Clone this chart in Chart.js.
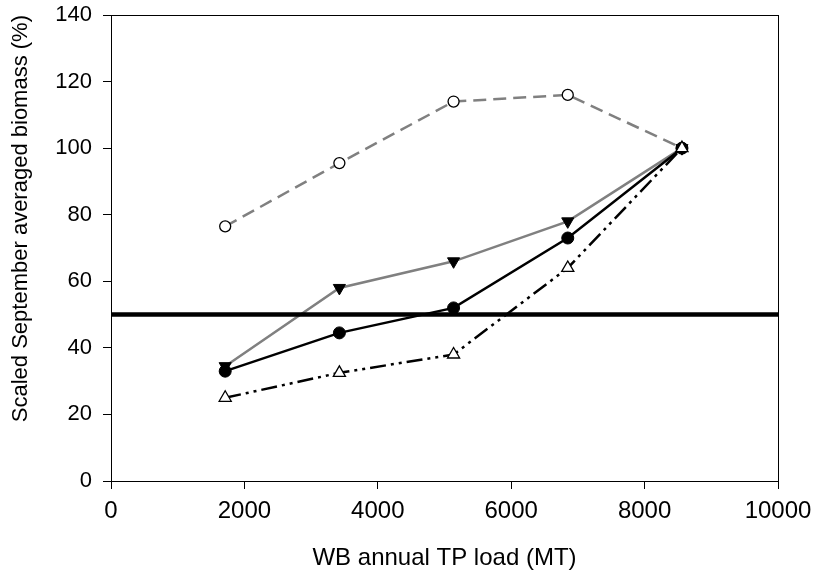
<!DOCTYPE html>
<html>
<head>
<meta charset="utf-8">
<script src="https://cdn.jsdelivr.net/npm/chart.js@4.4.0/dist/chart.umd.min.js"></script>
<style>
  html, body { margin: 0; padding: 0; background: #fff; }
  #wrap { width: 813px; height: 577px; }
</style>
</head>
<body>
<div id="wrap"><canvas id="chart" width="813" height="577"></canvas></div>
<script>
// ====================== Data ======================
const loads = [1712, 3424, 5136, 6848, 8560];
const openCircles = [76.5, 95.5, 114, 116, 100];
const downTriangles = [34.5, 58, 66, 78, 100];
const filledCircles = [33, 44.5, 52, 73, 100];
const openTriangles = [25, 32.5, 38, 64, 100];
const thresholdX = [0, 10000];
const thresholdY = [50, 50];

const toPoints = (xs, ys) => xs.map((x, i) => ({ x: x, y: ys[i] }));

// ====================== Frame plugin ======================
const frame = {
  id: 'frame',
  afterDatasetsDraw(chart) {
    const a = chart.chartArea;
    const ctx = chart.ctx;
    ctx.save();
    ctx.strokeStyle = '#000';
    ctx.lineWidth = 1;
    ctx.strokeRect(Math.round(a.left) + 0.5, Math.round(a.top) + 0.5,
                   Math.round(a.right - a.left), Math.round(a.bottom - a.top));
    ctx.restore();
  }
};

const font = "'Liberation Sans', Arial, sans-serif";

new Chart(document.getElementById('chart').getContext('2d'), {
  type: 'line',
  data: {
    datasets: [
      {
        data: toPoints(thresholdX, thresholdY),
        borderColor: '#000', borderWidth: 4.5, pointRadius: 0, order: 0
      },
      {
        data: toPoints(loads, openCircles),
        borderColor: '#808080', borderWidth: 2.5, borderDash: [13, 7],
        pointStyle: 'circle', pointRadius: 5.5, pointBackgroundColor: '#fff',
        pointBorderColor: '#000', pointBorderWidth: 1.3, order: 4
      },
      {
        data: toPoints(loads, downTriangles),
        borderColor: '#808080', borderWidth: 2.5,
        pointStyle: 'triangle', pointRotation: 180, pointRadius: 7,
        pointBackgroundColor: '#000', pointBorderColor: '#000', pointBorderWidth: 1, order: 3
      },
      {
        data: toPoints(loads, filledCircles),
        borderColor: '#000', borderWidth: 2.5,
        pointStyle: 'circle', pointRadius: 6, pointBackgroundColor: '#000',
        pointBorderColor: '#000', pointBorderWidth: 1, order: 2
      },
      {
        data: toPoints(loads, openTriangles),
        borderColor: '#000', borderWidth: 2.5, borderDash: [16, 5, 3, 5, 3, 5],
        pointStyle: 'triangle', pointRadius: 7, pointBackgroundColor: '#fff',
        pointBorderColor: '#000', pointBorderWidth: 1.3, order: 1
      }
    ]
  },
  options: {
    responsive: false,
    animation: false,
    layout: { padding: { top: 15, right: 35, left: 0, bottom: 0 } },
    plugins: { legend: { display: false }, tooltip: { enabled: false } },
    scales: {
      x: {
        type: 'linear', min: 0, max: 10000,
        afterFit(scale) { scale.height = 96; scale.paddingRight = 0; scale.paddingLeft = 0; },
        ticks: { stepSize: 2000, color: '#000', padding: 8, font: { family: font, size: 24 },
                 callback: v => String(v) },
        grid: { drawOnChartArea: false, drawTicks: true, tickLength: 8, color: '#000' },
        border: { display: true, color: '#000', width: 1 },
        title: { display: true, text: 'WB annual TP load (MT)', color: '#000',
                 font: { family: font, size: 24 }, padding: { top: 4, bottom: 4 } }
      },
      y: {
        type: 'linear', min: 0, max: 140,
        afterFit(scale) { scale.width = 111; scale.paddingTop = 0; scale.paddingBottom = 0; },
        ticks: { stepSize: 20, color: '#000', padding: 11, font: { family: font, size: 22 } },
        grid: { drawOnChartArea: false, drawTicks: true, tickLength: 8, color: '#000' },
        border: { display: true, color: '#000', width: 1 },
        title: { display: true, text: 'Scaled September averaged biomass (%)', color: '#000',
                 align: 'end', font: { family: font, size: 22 }, padding: { top: 8, bottom: 8 } }
      }
    }
  },
  plugins: [frame]
});
</script>
</body>
</html>
